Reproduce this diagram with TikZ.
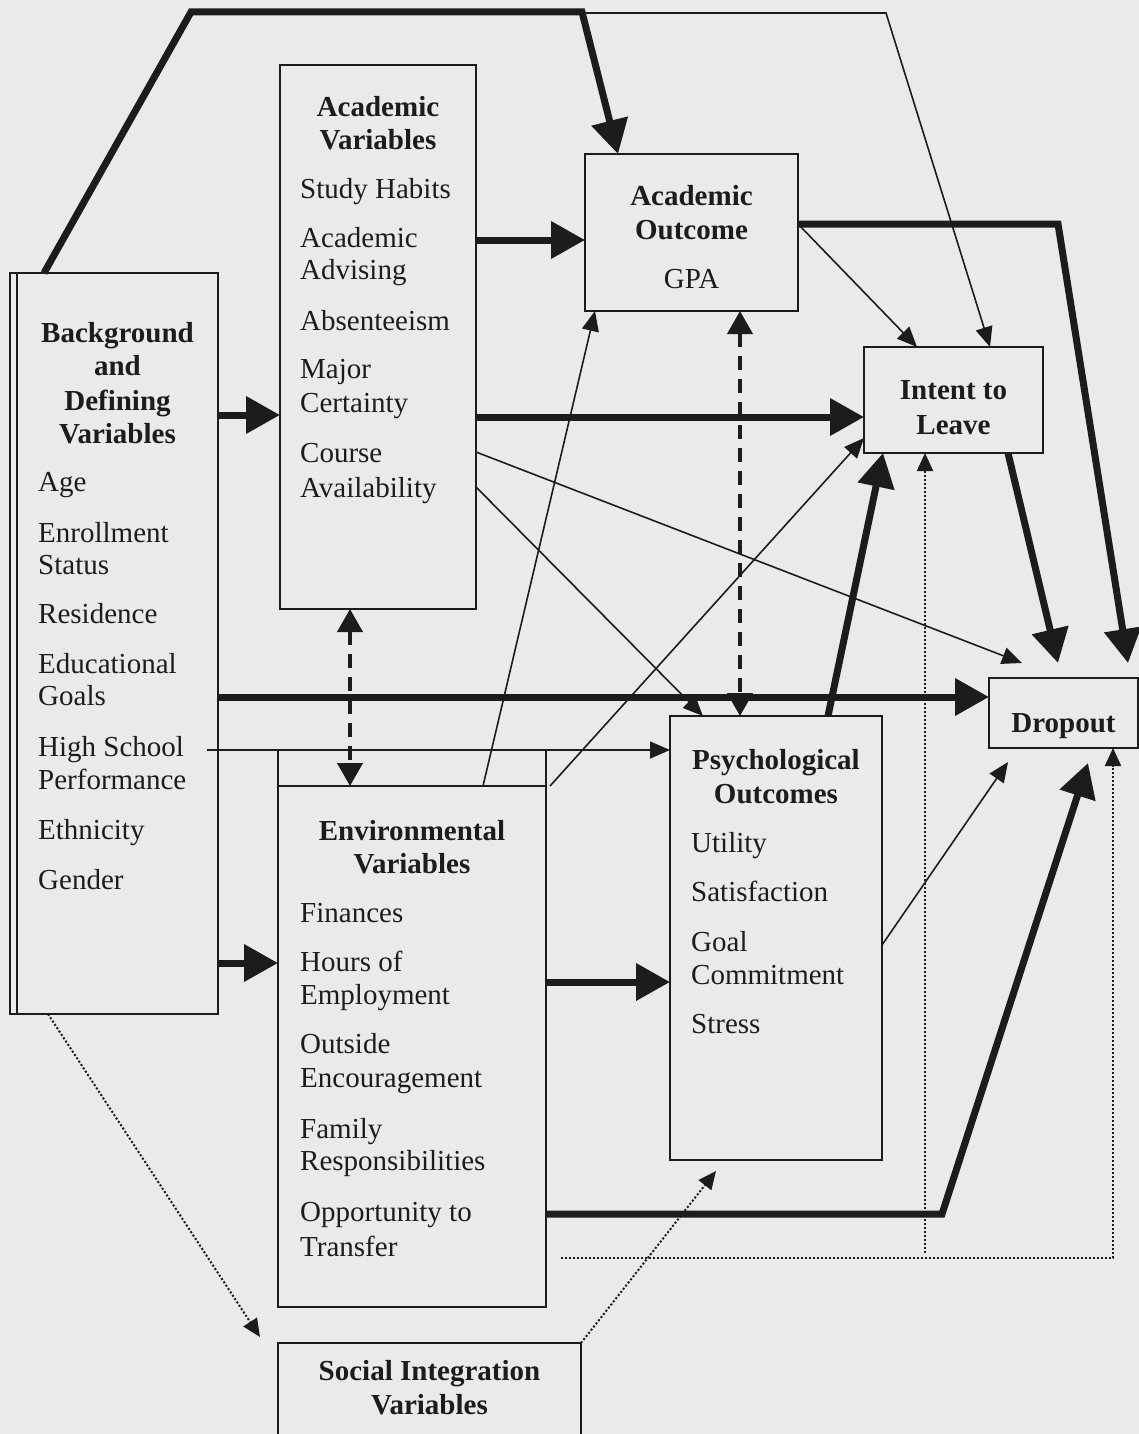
\documentclass[tikz,border=0pt]{standalone}
\usepackage{fontspec}
\setmainfont{Liberation Serif}
\usetikzlibrary{arrows.meta,calc}
\definecolor{paper}{RGB}{234,234,234}
\definecolor{ink}{RGB}{28,28,28}
\begin{document}
\begin{tikzpicture}[x=1pt,y=-1pt,
  box/.style={draw=ink,line width=2pt,inner sep=0pt,outer sep=0pt},
  item/.style={anchor=base west,inner sep=0pt,text=ink,font=\fontsize{29}{33}\selectfont},
  ctext/.style={anchor=base,inner sep=0pt,text=ink,font=\fontsize{29}{33}\selectfont},
  ttl/.style={anchor=base,inner sep=0pt,text=ink,font=\fontsize{29}{33}\selectfont\bfseries},
  heavy/.style={draw=ink,line width=7pt,line join=miter,-{Triangle[length=34pt,width=36pt]}},
  heavyline/.style={draw=ink,line width=7pt,line join=miter},
  light/.style={draw=ink,line width=1.6pt,line join=miter,-{Triangle[length=20pt,width=17pt]}},
  plainline/.style={draw=ink,line width=1.6pt},
  dashd/.style={draw=ink,line width=4pt,dash pattern=on 14pt off 9pt,{Triangle[length=23pt,width=25pt]}-{Triangle[length=23pt,width=25pt]}},
  dots/.style={draw=ink,line width=2pt,dash pattern=on 2pt off 2pt},
  dotarrow/.style={dots,-{Triangle[length=18pt,width=16pt]}},
]
\fill[paper] (0,0) rectangle (1139,1434);
\useasboundingbox (0,0) rectangle (1139,1434);

% boxes
\node[box,minimum width=208pt,minimum height=741pt] (bg) at (114,643.5) {};
\draw[box] (17,0 |- bg.north) -- (17,0 |- bg.south);
\node[box,minimum width=196pt,minimum height=544pt] (acv) at (378,337) {};
\node[box,minimum width=213pt,minimum height=157pt] (aco) at (691.5,232.5) {};
\node[box,minimum width=179pt,minimum height=106pt] (itl) at (953.5,400) {};
\node[box,minimum width=149pt,minimum height=70pt] (dro) at (1063.5,713) {};
\node[box,minimum width=212pt,minimum height=444pt] (psy) at (776,938) {};
\node[box,minimum width=268pt,minimum height=521pt] (env) at (412,1046.5) {};
\node[box,minimum width=303pt,minimum height=117pt] (soc) at (429.5,1401.5) {};
\draw[box] (env.north west) -- (env.north west |- 0,750);
\draw[box] (env.north east) -- (env.north east |- 0,750);

% texts
\foreach \t/\y [count=\i] in {Background/342,and/375,Defining/410,Variables/443}
  \node[ttl] (bgt\i) at (117.5,\y) {\t};
\foreach \t/\y [count=\i] in {Age/491,Enrollment/542,Status/574,Residence/623,Educational/673,Goals/705,High School/756,Performance/789,Ethnicity/839,Gender/889}
  \node[item] (bgi\i) at (38,\y) {\t};
\foreach \t/\y [count=\i] in {Academic/117,Variables/150}
  \node[ttl] (acvt\i) at (378,\y) {\t};
\foreach \t/\y [count=\i] in {Study Habits/198,Academic/247,Advising/279,Absenteeism/330,Major/378,Certainty/412,Course/462,Availability/497}
  \node[item] (acvi\i) at (300,\y) {\t};
\foreach \t/\y [count=\i] in {Academic/205,Outcome/239}
  \node[ttl] (acot\i) at (691.5,\y) {\t};
\node[ctext] (acoi1) at (691.5,288) {GPA};
\foreach \t/\y [count=\i] in {Intent to/399,Leave/434}
  \node[ttl] (itlt\i) at (953.5,\y) {\t};
\node[ttl] (drot1) at (1063.5,732) {Dropout};
\foreach \t/\y [count=\i] in {Psychological/769,Outcomes/803}
  \node[ttl] (psyt\i) at (776,\y) {\t};
\foreach \t/\y [count=\i] in {Utility/852,Satisfaction/901,Goal/951,Commitment/984,Stress/1033}
  \node[item] (psyi\i) at (691,\y) {\t};
\foreach \t/\y [count=\i] in {Environmental/840,Variables/873}
  \node[ttl] (envt\i) at (412,\y) {\t};
\foreach \t/\y [count=\i] in {Finances/922,Hours of/971,Employment/1004,Outside/1053,Encouragement/1087,Family/1138,Responsibilities/1170,Opportunity to/1221,Transfer/1256}
  \node[item] (envi\i) at (300,\y) {\t};
\foreach \t/\y [count=\i] in {Social Integration/1380,Variables/1414}
  \node[ttl] (soct\i) at (429.5,\y) {\t};

% helper coordinates
\coordinate (c1) at (191,12);
\coordinate (c2) at (582,12);
\coordinate (c3) at (886,13);
\coordinate (c4) at (1058,224);
\coordinate (c5) at (942,1214);
\coordinate (c6) at (561,1258);
\coordinate (c7) at (1113,1258);
\coordinate (c8) at (925,1253);
\coordinate (tipA) at ($(1128,0 |- dro.north)+(0,-15)$);
\coordinate (tipB) at ($(1058,0 |- dro.north)+(0,-15)$);
\coordinate (tipC) at ($(1022,0 |- dro.north)+(0,-15)$);
\coordinate (tipD) at ($(1008,0 |- dro.south)+(0,14)$);
\coordinate (tipE) at ($(1088,0 |- dro.south)+(0,15)$);
\coordinate (tipF) at ($(716,0 |- psy.south)+(0,11)$);
\coordinate (tipG) at ($(260,0 |- soc.north)+(0,-6)$);
\coordinate (hs) at (207,750);

% connectors
\draw[heavy] (44,0 |- bg.north) -- (c1) -- (c2) -- (618,0 |- aco.north);
\draw[light] (582,13) -- (c3) -- (990,0 |- itl.north);
\draw[heavy] (acv.east |- 0,240) -- (aco.west |- 0,240);
\draw[heavy] (bg.east |- 0,415) -- (acv.west |- 0,415);
\draw[heavy] (aco.east |- 0,224) -- (c4) -- (tipA);
\draw[light] (aco.east |- 0,224) -- (917,0 |- itl.north);
\draw[heavy] (acv.east |- 0,417) -- (itl.west |- 0,417);
\draw[dashd] (740,0 |- aco.south) -- (740,0 |- psy.north);
\draw[light] (acv.east |- 0,452) -- (tipC);
\draw[light] (acv.east |- 0,487) -- (703,0 |- psy.north);
\draw[heavy] (bg.east |- 0,697) -- (dro.west |- 0,697);
\draw[light] (483,0 |- env.north) -- (595,0 |- aco.south);
\draw[light] (550,0 |- env.north) -- (itl.west |- 0,438);
\draw[light] (hs) -- (psy.west |- hs);
\draw[dashd] (350,0 |- acv.south) -- (350,0 |- env.north);
\draw[heavy] (bg.east |- 0,963) -- (env.west |- 0,963);
\draw[heavy] (env.east |- 0,982) -- (psy.west |- 0,982);
\draw[heavy] (828,0 |- psy.north) -- (883,0 |- itl.south);
\draw[heavy] (1008,0 |- itl.south) -- (tipB);
\draw[dotarrow] (c8) -- (925,0 |- itl.south);
\draw[light] (psy.east |- 0,945) -- (tipD);
\draw[heavy] (env.east |- c5) -- (c5) -- (tipE);
\draw[dotarrow] (c6) -- (c7) -- (1113,0 |- dro.south);
\draw[dotarrow] (soc.north east) -- (tipF);
\draw[dotarrow] (48,0 |- bg.south) -- (tipG);
\end{tikzpicture}
\end{document}
